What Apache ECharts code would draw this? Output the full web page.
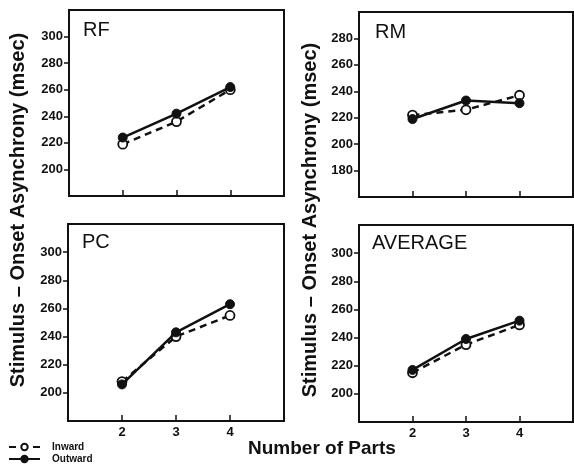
<!DOCTYPE html>
<html>
<head>
<meta charset="utf-8">
<script src="https://cdn.jsdelivr.net/npm/echarts@6/dist/echarts.min.js"></script>
<style>
html,body{margin:0;padding:0;background:#fff;}
#c{width:574px;height:465px;}
</style>
</head>
<body>
<div id="c"></div>
<script>
// ---- data ----
const parts = [2, 3, 4];
const panelNames = ['RF', 'RM', 'PC', 'AVERAGE'];
const rfInward = [219, 236, 260];
const rfOutward = [224, 242, 262];
const rmInward = [222, 226, 237];
const rmOutward = [219, 233, 231];
const pcInward = [208, 240, 255];
const pcOutward = [206, 243, 263];
const avgInward = [215, 235, 249];
const avgOutward = [217, 239, 252];
const yTicksA = [200, 220, 240, 260, 280, 300];
const yTicksB = [180, 200, 220, 240, 260, 280];
const xTicks = [2, 3, 4];
const yTitle = 'Stimulus \u2013 Onset Asynchrony (msec)';
const xTitle = 'Number of Parts';

const inwardSets = [rfInward, rmInward, pcInward, avgInward];
const outwardSets = [rfOutward, rmOutward, pcOutward, avgOutward];
const yRanges = [[180, 320], [160, 300], [180, 320], [180, 320]];
const yTickSets = [yTicksA, yTicksB, yTicksA, yTicksA];

const grids = [
  {left: 69, top: 10, width: 215, height: 186},
  {left: 359, top: 12, width: 214, height: 185},
  {left: 68, top: 224, width: 216, height: 197},
  {left: 359, top: 225, width: 214, height: 197}
];
const titleOffsets = [[14, 10], [16, 10], [14, 8], [13, 8]];

const FONT = 'Liberation Sans';
const INK = '#111';

const option = {
  animation: false,
  backgroundColor: '#fff',
  grid: grids.map(g => Object.assign({show: true, borderColor: INK, borderWidth: 2, backgroundColor: 'transparent'}, g)),
  xAxis: grids.map((g, i) => ({
    type: 'value', gridIndex: i, min: 1, max: 5,
    axisLine: {show: true, lineStyle: {color: INK, width: 2}},
    axisTick: {show: true, inside: true, length: 6, customValues: xTicks, lineStyle: {color: INK, width: 1.5}},
    axisLabel: {show: i >= 2, customValues: xTicks, color: INK, fontFamily: FONT, fontWeight: 'bold', fontSize: 13, margin: 5},
    splitLine: {show: false}
  })),
  yAxis: grids.map((g, i) => ({
    type: 'value', gridIndex: i, min: yRanges[i][0], max: yRanges[i][1], interval: 20,
    axisLine: {show: true, lineStyle: {color: INK, width: 2}},
    axisTick: {show: true, inside: false, length: 5, customValues: yTickSets[i], lineStyle: {color: INK, width: 1.5}},
    axisLabel: {show: true, customValues: yTickSets[i], color: INK, fontFamily: FONT, fontWeight: 'bold', fontSize: 13, margin: 6},
    splitLine: {show: false}
  })),
  title: panelNames.map((n, i) => ({
    text: n, left: grids[i].left + titleOffsets[i][0], top: grids[i].top + titleOffsets[i][1], padding: 0,
    textStyle: {fontFamily: FONT, fontWeight: 'normal', fontSize: 20, color: INK}
  })).concat([{
    text: xTitle, left: 248, top: 439, padding: 0,
    textStyle: {fontFamily: FONT, fontWeight: 'bold', fontSize: 19, color: INK}
  }]),
  graphic: [
    {type: 'text', x: 18, y: 210, rotation: Math.PI / 2,
     style: {text: yTitle, fill: INK, font: 'bold 20px "Liberation Sans"', align: 'center', verticalAlign: 'middle'}},
    {type: 'text', x: 310, y: 220, rotation: Math.PI / 2,
     style: {text: yTitle, fill: INK, font: 'bold 20px "Liberation Sans"', align: 'center', verticalAlign: 'middle'}}
  ],
  legend: {
    data: ['Inward', 'Outward'], orient: 'vertical', left: 8, top: 442, height: 40, padding: 0,
    itemWidth: 31, itemHeight: 8, itemGap: 2,
    textStyle: {fontFamily: FONT, fontWeight: 'bold', fontSize: 10, color: INK, padding: [0, 0, 0, 7]},
    inactiveColor: '#999'
  },
  series: []
};

for (let i = 0; i < 4; i++) {
  option.series.push({
    name: 'Inward', type: 'line', xAxisIndex: i, yAxisIndex: i,
    data: parts.map((p, k) => [p, inwardSets[i][k]]),
    symbol: 'circle', symbolSize: 9,
    lineStyle: {color: INK, width: 2.5, type: [7, 5]},
    itemStyle: {color: '#fff', borderColor: INK, borderWidth: 1.8},
    z: 3
  });
  option.series.push({
    name: 'Outward', type: 'line', xAxisIndex: i, yAxisIndex: i,
    data: parts.map((p, k) => [p, outwardSets[i][k]]),
    symbol: 'circle', symbolSize: 9,
    lineStyle: {color: INK, width: 2.5, type: 'solid'},
    itemStyle: {color: INK, borderColor: INK, borderWidth: 1},
    z: 4
  });
}

const chart = echarts.init(document.getElementById('c'), null, {renderer: 'canvas'});
chart.setOption(option);
</script>
</body>
</html>
